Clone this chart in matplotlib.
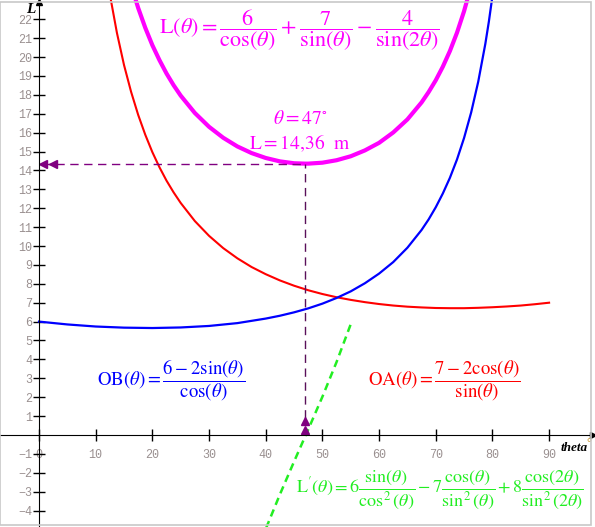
import numpy as np
import matplotlib
matplotlib.use("Agg")
import matplotlib.pyplot as plt

plt.rcParams['mathtext.fontset'] = 'stix'
plt.rcParams['font.family'] = ['Liberation Serif', 'DejaVu Serif']

# =========================
# DATA (theta in degrees)
# =========================

theta_ob = [0, 5, 10, 15, 20, 25, 30, 35, 40, 42.5, 45, 47.5, 50, 52.5, 55,
            57.5, 60, 62.5, 65, 67.5, 68.75, 70, 71.25, 72.5, 73.75, 75, 76.25,
            77.5, 78.75, 79.375, 80]
ob = [6.00, 5.85, 5.74, 5.68, 5.66, 5.69, 5.77, 5.92, 6.16, 6.31, 6.49, 6.70,
      6.95, 7.25, 7.60, 8.03, 8.54, 9.15, 9.91, 10.85, 11.41, 12.05, 12.78,
      13.61, 14.58, 15.72, 17.07, 18.70, 20.70, 21.88, 23.22]

theta_oa = [10, 11.25, 12.5, 13.75, 15, 16.25, 17.5, 18.75, 20, 21.25, 22.5,
            23.75, 25, 27.5, 30, 32.5, 35, 37.5, 40, 42.5, 45, 47.5, 50, 52.5,
            55, 57.5, 60, 62.5, 65, 67.5, 70, 72.5, 75, 77.5, 80, 82.5, 85,
            87.5, 90]
oa = [28.98, 25.82, 23.32, 21.28, 19.58, 18.16, 16.94, 15.89, 14.97, 14.17,
      13.46, 12.84, 12.28, 11.32, 10.54, 9.89, 9.35, 8.89, 8.51, 8.18, 7.90,
      7.66, 7.46, 7.29, 7.15, 7.03, 6.93, 6.85, 6.79, 6.75, 6.72, 6.71, 6.71,
      6.73, 6.76, 6.80, 6.85, 6.92, 7.00]

theta_l = [12.5, 13.75, 15, 16.25, 17.5, 18.75, 20, 21.25, 22.5, 23.75, 25,
           27.5, 30, 32.5, 35, 37.5, 40, 42.5, 45, 47, 47.5, 50, 52.5, 55,
           57.5, 60, 62.5, 65, 67.5, 68.75, 70, 71.25, 72.5, 73.75, 75, 76.25,
           77.5]
l_val = [29.03, 26.96, 25.26, 23.82, 22.60, 21.55, 20.63, 19.84, 19.13, 18.51,
         17.96, 17.04, 16.31, 15.73, 15.27, 14.92, 14.66, 14.48, 14.38, 14.36,
         14.36, 14.41, 14.54, 14.75, 15.06, 15.46, 16.01, 16.70, 17.60, 18.15,
         18.77, 19.49, 20.32, 21.29, 22.43, 23.78, 25.43]

theta_dl = [40, 42.5, 45, 47.5, 50, 52.5, 55]
dl = [-4.98, -3.15, -1.41, 0.29, 2.02, 3.86, 5.86]

theta_min = 47
l_min = 14.36

xticks = [0, 10, 20, 30, 40, 50, 60, 70, 80, 90]
yticks = [-4, -3, -2, -1, 1, 2, 3, 4, 5, 6, 7, 8, 9, 10, 11, 12, 13, 14, 15,
          16, 17, 18, 19, 20, 21, 22]

# =========================
# PLOT
# =========================

fig = plt.figure(figsize=(5.95, 5.27), dpi=100)
ax = fig.add_axes([0, 0, 1, 1])
ax.set_xlim(-6.88, 98.1)
ax.set_ylim(-4.87, 23.02)

ax.plot(theta_oa, oa, color='red', lw=1.5)
ax.plot(theta_ob, ob, color='blue', lw=1.6)
ax.plot(theta_l, l_val, color='#ff00ff', lw=3)
ax.plot(theta_dl, dl, color='#22ee22', lw=1.8, dashes=(3, 2))

# markering av minimum
purple = '#800080'
ax.plot([0.5, theta_min], [l_min, l_min], color=purple, lw=1, dashes=(6, 4))
ax.plot([theta_min, theta_min], [0.9, l_min], color='#5a105a', lw=1, dashes=(6, 4))
ax.plot([0.7, 2.5], [l_min, l_min], '<', color=purple, ms=6)
ax.plot([theta_min, theta_min], [0.25, 0.75], '^', color=purple, ms=6)

# axlar
for s in ['top', 'right']:
    ax.spines[s].set_visible(False)
ax.spines['left'].set_position(('data', 0))
ax.spines['bottom'].set_position(('data', 0))
ax.spines['left'].set_bounds(-4.87, 23.0)
ax.spines['bottom'].set_bounds(-6.88, 97.5)
ax.plot(97.8, 0, '>', color='black', ms=4, clip_on=False)
ax.plot(0, 22.9, '^', color='black', ms=4, clip_on=False)

ax.set_xticks(xticks)
ax.set_yticks(yticks)
ax.tick_params(direction='inout', length=8, width=1, colors='black',
               labelcolor='#9a9090', labelsize=8.5)
for lab in ax.get_xticklabels() + ax.get_yticklabels():
    lab.set_fontfamily('Liberation Mono')
ax.tick_params(axis='x', pad=6)
ax.tick_params(axis='y', pad=1)

ax.text(-0.7, 22.5, 'L', fontsize=11, fontweight='bold', fontstyle='italic',
        ha='right', va='center', color='black')
ax.text(92.0, -0.7, 'theta', fontsize=9.5, fontweight='bold', fontstyle='italic',
        ha='left', va='center', color='black')
ax.text(96.6, -0.45, '°', fontsize=9, ha='left', va='center', color='#c08000',
        zorder=5)

# formler
ax.text(45.9, 21.4,
        r'$\mathrm{L}(\theta)=\dfrac{6}{\cos(\theta)}+\dfrac{7}{\sin(\theta)}-\dfrac{4}{\sin(2\theta)}$',
        color='#ff00ff', fontsize=16, ha='center', va='center')
ax.text(46.0, 16.7, r'$\theta=47^{\circ}$', color='#ff00ff', fontsize=14,
        ha='center', va='center')
ax.text(46.0, 15.45, r'$\mathrm{L}=14{,}36\ \ \mathrm{m}$', color='#ff00ff',
        fontsize=14, ha='center', va='center')
ax.text(23.3, 2.9, r'$\mathrm{OB}(\theta)=\dfrac{6-2\sin(\theta)}{\cos(\theta)}$',
        color='blue', fontsize=13.5, ha='center', va='center')
ax.text(71.5, 2.9, r'$\mathrm{OA}(\theta)=\dfrac{7-2\cos(\theta)}{\sin(\theta)}$',
        color='red', fontsize=13.5, ha='center', va='center')
ax.text(70.8, -2.9,
        r"$\mathrm{L}'(\theta)=6\dfrac{\sin(\theta)}{\cos^2(\theta)}-7\dfrac{\cos(\theta)}{\sin^2(\theta)}+8\dfrac{\cos(2\theta)}{\sin^2(2\theta)}$",
        color='#22ee22', fontsize=13, ha='center', va='center')

# ram
fig.patches.append(plt.Rectangle((0.0, 0.004), 0.994, 0.992, transform=fig.transFigure,
                                 fill=False, edgecolor='#c8c8c8', lw=1.2))

fig.savefig('out.png', dpi=100)
